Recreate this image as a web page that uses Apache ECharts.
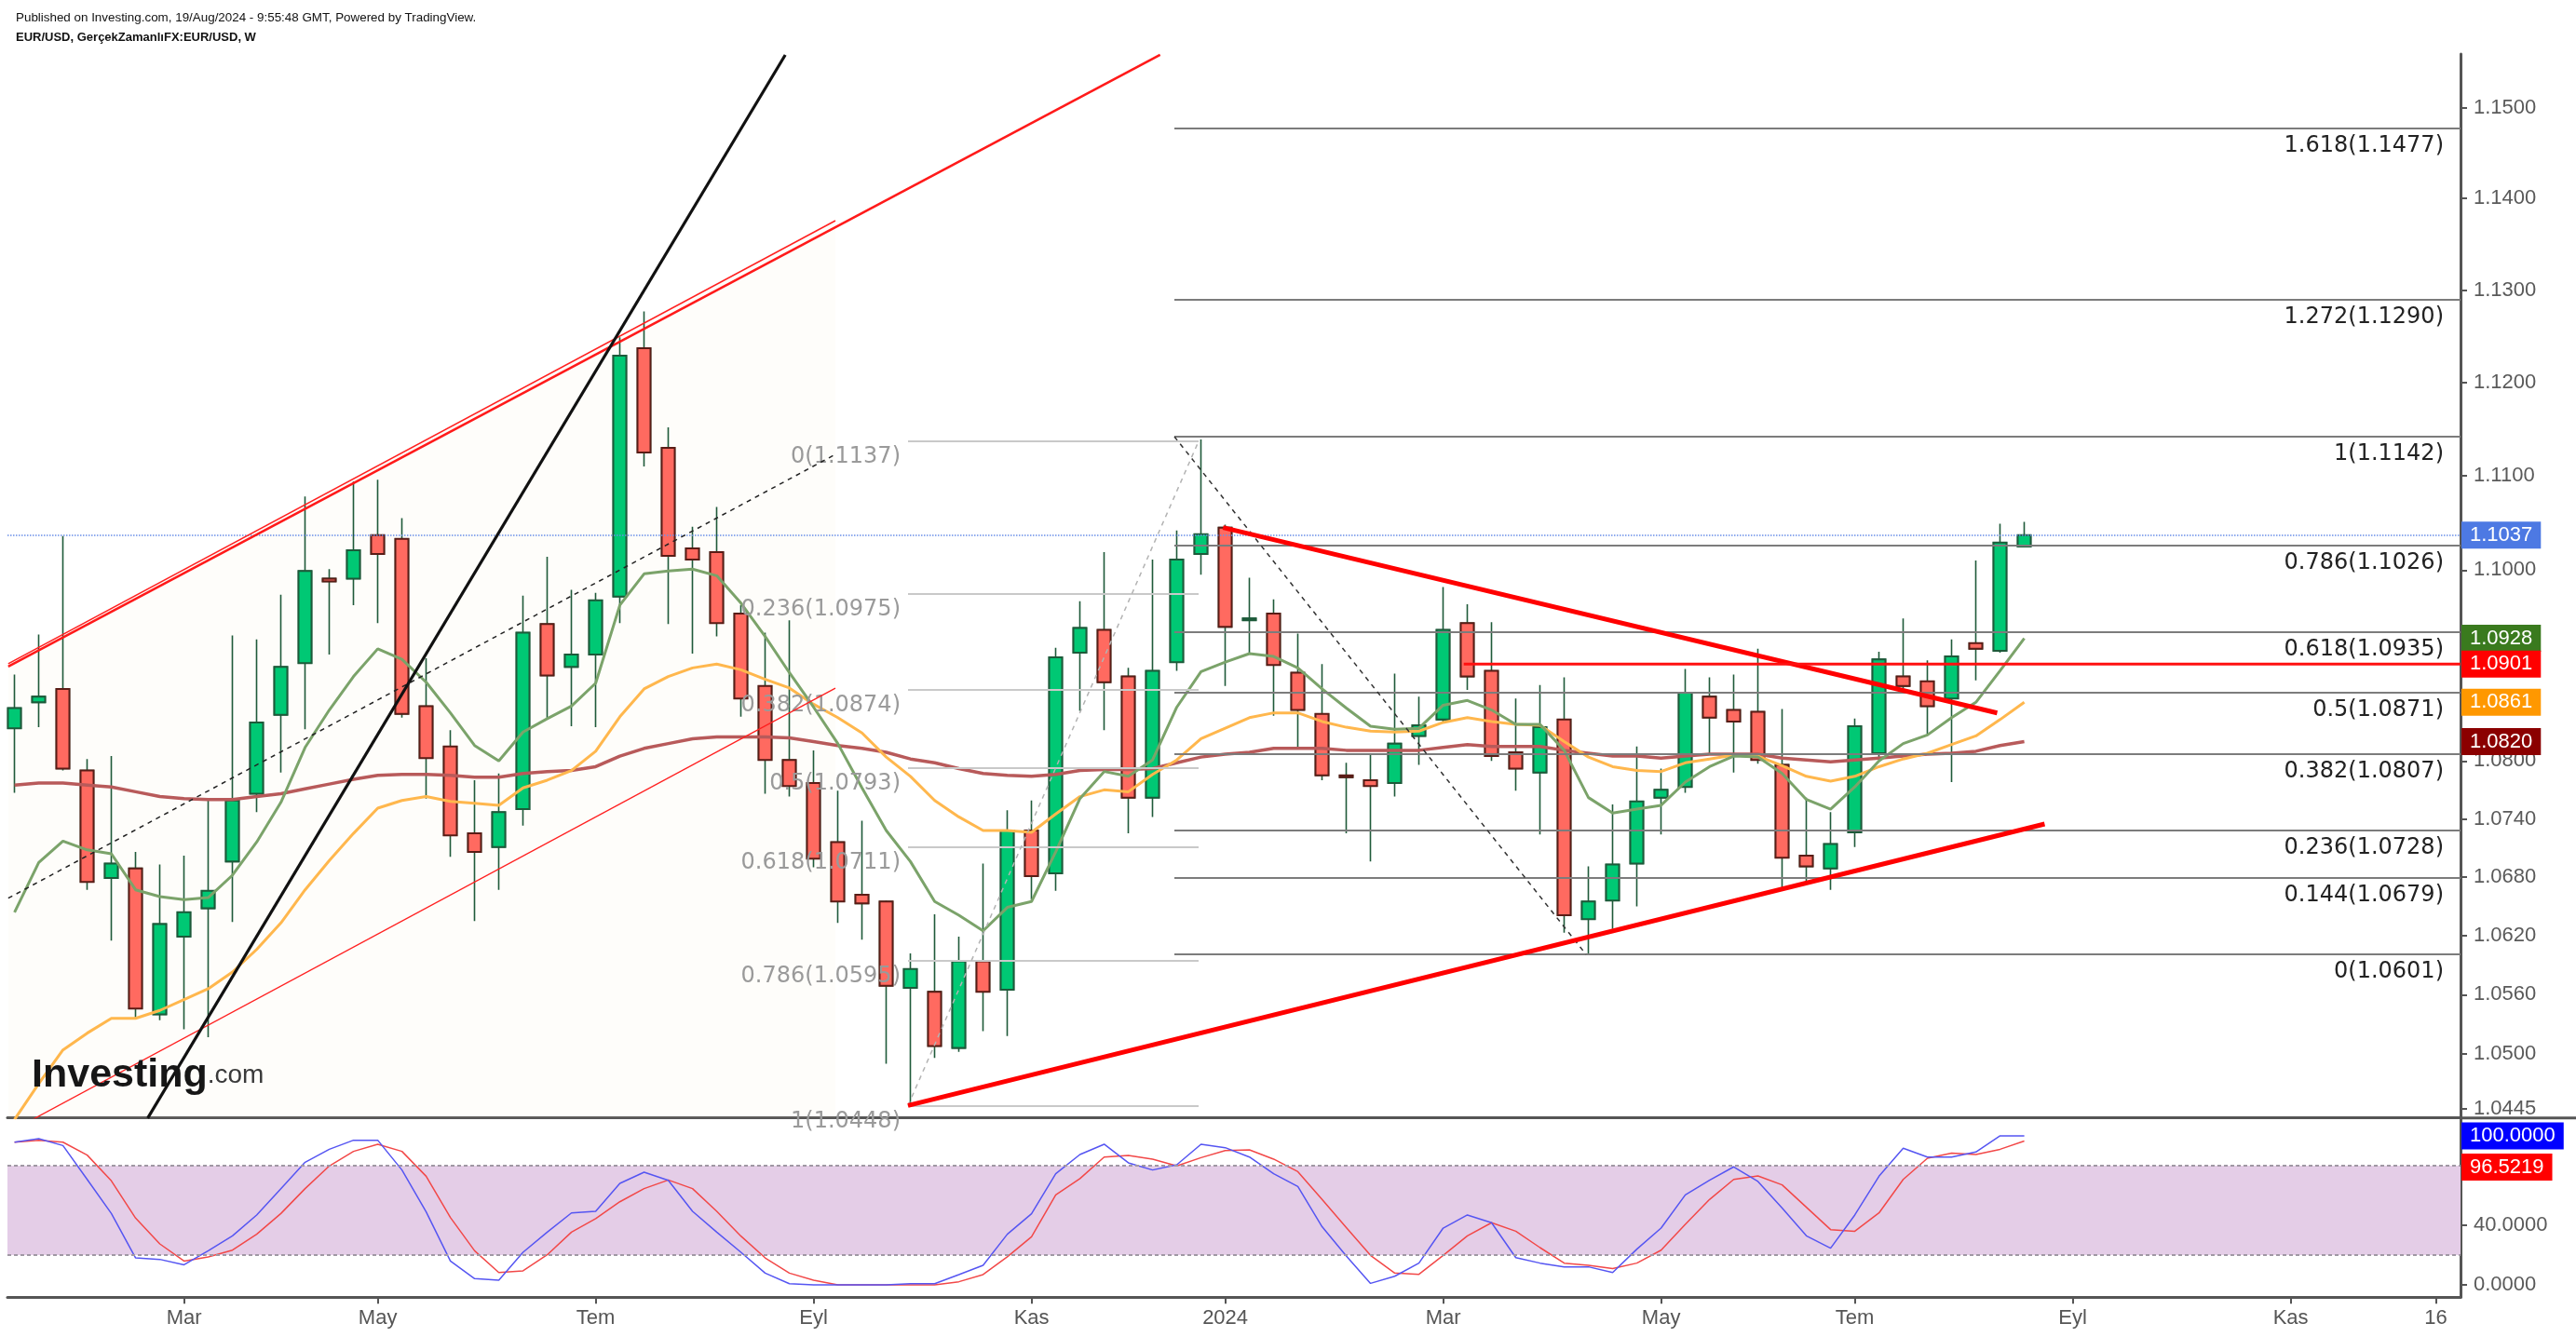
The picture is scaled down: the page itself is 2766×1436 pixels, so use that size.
<!DOCTYPE html>
<html><head><meta charset="utf-8">
<script src="https://cdn.jsdelivr.net/npm/echarts@6.0.0/dist/echarts.min.js"></script>
<style>html,body{margin:0;padding:0;background:#fff}#c{width:2766px;height:1436px}</style>
</head><body><div id="c"></div>
<script>
// ---------- DATA (weekly EUR/USD, first bar = week of 16 Jan 2023) ----------
const firstWeek = '2023-01-16';
const open = [1.0834,1.0861,1.0875,1.0790,1.0679,1.0689,1.0540,1.0619,1.0648,1.0696,
1.0766,1.0848,1.0902,1.0991,1.0991,1.1037,1.1033,1.0857,1.0815,1.0725,
1.0711,1.0750,1.0943,1.0898,1.0911,1.0972,1.1237,1.1130,1.1023,1.1019,
1.0954,1.0878,1.0801,1.0777,1.0716,1.0662,1.0655,1.0567,1.0563,1.0506,
1.0594,1.0565,1.0728,1.0684,1.0913,1.0937,1.0888,1.0762,1.0903,1.1017,
1.1045,1.0947,1.0954,1.0892,1.0849,1.0785,1.0780,1.0777,1.0826,1.0843,
1.0944,1.0894,1.0809,1.0788,1.0843,1.0637,1.0656,1.0694,1.0762,1.0773,
1.0867,1.0853,1.0851,1.0796,1.0702,1.0689,1.0726,1.0808,1.0888,1.0883,
1.0865,1.0923,1.0915,1.1025];
const high = [1.0890,1.0932,1.1036,1.0802,1.0805,1.0706,1.0693,1.0702,1.0760,1.0931,
1.0927,1.0974,1.1078,1.1001,1.1094,1.1096,1.1055,1.0907,1.0832,1.0780,
1.0787,1.0973,1.1014,1.0979,1.0976,1.1249,1.1277,1.1152,1.1046,1.1067,
1.0963,1.0934,1.0947,1.0811,1.0769,1.0738,1.0656,1.0602,1.0642,1.0619,
1.0694,1.0749,1.0759,1.0918,1.0967,1.1019,1.0897,1.1011,1.1042,1.1139,
1.1048,1.0992,1.0969,1.0933,1.0901,1.0798,1.0808,1.0891,1.0867,1.0982,
1.0964,1.0945,1.0865,1.0879,1.0887,1.0691,1.0755,1.0815,1.0792,1.0896,
1.0887,1.0890,1.0917,1.0854,1.0762,1.0747,1.0844,1.0914,1.0949,1.0905,
1.0927,1.1010,1.1049,1.1051];
const low = [1.0767,1.0835,1.0790,1.0667,1.0615,1.0535,1.0534,1.0525,1.0517,1.0634,
1.0747,1.0788,1.0833,1.0911,1.0963,1.0944,1.0845,1.0761,1.0701,1.0635,
1.0667,1.0733,1.0844,1.0836,1.0835,1.0944,1.1110,1.0943,1.0912,1.0930,
1.0846,1.0766,1.0763,1.0690,1.0633,1.0616,1.0490,1.0448,1.0496,1.0502,
1.0523,1.0518,1.0657,1.0666,1.0852,1.0832,1.0725,1.0742,1.0894,1.0995,
1.0878,1.0913,1.0847,1.0814,1.0780,1.0725,1.0696,1.0763,1.0796,1.0839,
1.0874,1.0800,1.0769,1.0724,1.0623,1.0601,1.0627,1.0650,1.0724,1.0767,
1.0806,1.0788,1.0797,1.0669,1.0674,1.0667,1.0711,1.0804,1.0875,1.0827,
1.0778,1.0884,1.0913,1.1025];
const close = [1.0855,1.0867,1.0792,1.0675,1.0694,1.0546,1.0632,1.0644,1.0666,1.0759,
1.0840,1.0898,1.0999,1.0988,1.1021,1.1017,1.0849,1.0803,1.0723,1.0706,
1.0747,1.0934,1.0889,1.0911,1.0968,1.1229,1.1125,1.1015,1.1011,1.0944,
1.0865,1.0801,1.0774,1.0699,1.0655,1.0653,1.0569,1.0586,1.0508,1.0594,
1.0563,1.0728,1.0681,1.0908,1.0939,1.0882,1.0762,1.0894,1.1011,1.1038,
1.0940,1.0949,1.0900,1.0853,1.0785,1.0783,1.0774,1.0818,1.0837,1.0937,
1.0888,1.0805,1.0792,1.0835,1.0641,1.0655,1.0693,1.0758,1.0770,1.0871,
1.0845,1.0841,1.0801,1.0700,1.0691,1.0714,1.0836,1.0906,1.0878,1.0857,
1.0909,1.0917,1.1029,1.1037];
const maFast = [1.0644,1.0695,1.0717,1.0708,1.0704,1.0667,1.0660,1.0657,1.0659,1.0682,
1.0716,1.0757,1.0814,1.0853,1.0888,1.0917,1.0906,1.0882,1.0850,1.0816,
1.0800,1.0830,1.0844,1.0857,1.0881,1.0963,1.0996,1.0999,1.1001,1.0994,
1.0965,1.0930,1.0892,1.0856,1.0818,1.0772,1.0728,1.0696,1.0655,1.0641,
1.0625,1.0649,1.0655,1.0706,1.0761,1.0789,1.0784,1.0801,1.0856,1.0893,
1.0903,1.0912,1.0909,1.0897,1.0875,1.0855,1.0836,1.0833,1.0834,1.0858,
1.0863,1.0853,1.0838,1.0838,1.0811,1.0762,1.0746,1.0750,1.0754,1.0778,
1.0794,1.0805,1.0804,1.0787,1.0760,1.0750,1.0773,1.0800,1.0818,1.0827,
1.0845,1.0861,1.0894,1.0928];
const maMid = [1.0434,1.0470,1.0504,1.0521,1.0536,1.0536,1.0544,1.0555,1.0566,1.0583,
1.0606,1.0633,1.0667,1.0697,1.0725,1.0751,1.0759,1.0763,1.0758,1.0756,
1.0754,1.0772,1.0780,1.0790,1.0810,1.0846,1.0875,1.0888,1.0897,1.0901,
1.0895,1.0885,1.0876,1.0859,1.0845,1.0829,1.0804,1.0784,1.0759,1.0742,
1.0728,1.0728,1.0726,1.0745,1.0763,1.0770,1.0768,1.0786,1.0801,1.0823,
1.0834,1.0845,1.0850,1.0850,1.0841,1.0835,1.0831,1.0830,1.0831,1.0840,
1.0845,1.0841,1.0838,1.0837,1.0820,1.0804,1.0794,1.0790,1.0789,1.0798,
1.0802,1.0806,1.0805,1.0795,1.0784,1.0779,1.0784,1.0794,1.0802,1.0808,
1.0817,1.0826,1.0843,1.0861];
const maSlow = [1.0775,1.0777,1.0777,1.0775,1.0773,1.0768,1.0763,1.0761,1.0760,1.0760,
1.0763,1.0766,1.0771,1.0776,1.0781,1.0785,1.0786,1.0786,1.0785,1.0783,
1.0783,1.0787,1.0789,1.0790,1.0794,1.0805,1.0813,1.0818,1.0823,1.0825,
1.0825,1.0825,1.0824,1.0820,1.0816,1.0813,1.0809,1.0802,1.0798,1.0792,
1.0787,1.0785,1.0784,1.0786,1.0790,1.0791,1.0791,1.0792,1.0798,1.0804,
1.0807,1.0809,1.0813,1.0813,1.0813,1.0811,1.0811,1.0811,1.0811,1.0814,
1.0817,1.0815,1.0815,1.0815,1.0811,1.0808,1.0805,1.0805,1.0803,1.0805,
1.0807,1.0807,1.0807,1.0803,1.0801,1.0799,1.0801,1.0803,1.0805,1.0807,
1.0808,1.0810,1.0816,1.0820];
const stochK = [95.8,98.1,93.5,70.8,47.9,18.1,17.1,13.5,22.9,32.9,
46.9,64.6,82.3,91.0,97.1,97.1,77.1,49.0,16.0,4.2,
3.1,21.9,35.4,48.3,49.4,68.1,75.6,70.2,49.4,35.4,
21.9,7.9,0.8,0,0,0,0,0.8,0.8,6.9,
13.1,34.0,47.7,74.6,87.5,94.4,81.9,77.1,80.6,94.4,
92.1,85.8,74.6,66.0,39.0,19.4,1.0,5.8,14.6,38.1,
46.9,41.7,18.3,14.6,12.1,12.1,8.3,24.0,38.1,60.4,
70.2,79.2,69.4,51.5,32.9,24.6,46.9,72.9,91.7,85.8,
85.8,89.2,100,100];
const stochD = [95.8,97.1,95.8,87.1,69.8,44.8,27.5,16.0,18.8,23.3,
34.0,47.9,64.6,79.8,89.6,94.4,89.6,72.9,45.2,22.9,
8.3,9.4,20.2,35.4,44.4,55.8,64.6,70.4,64.6,49.4,
32.7,18.1,7.9,3.1,0,0,0,0,0,2.1,
6.9,18.8,32.3,60.4,71.3,85.8,86.9,84.4,79.8,85.4,
90.2,90.6,84.4,76.0,57.3,38.5,19.8,7.9,7.1,19.8,
32.9,41.7,36.0,25.0,14.6,13.1,11.0,14.6,23.3,40.6,
57.3,70.8,73.1,67.1,52.1,37.1,36.0,48.3,70.8,85.0,
88.5,87.5,91.0,96.5219];

const priceTicks = [1.15,1.14,1.13,1.12,1.11,1.10,1.09,1.08,1.074,1.068,1.062,1.056,1.05,1.0445];
const stochTicks = [0,40,80];
const timeTickIdx = [7,15,24,33,42,50,59,68,76,85,94,100];
const timeTickLabels = ['Mar','May','Tem','Eyl','Kas','2024','Mar','May','Tem','Eyl','Kas','16'];

const fibARatios = ['0','0.236','0.382','0.5','0.618','0.786','1'];
const fibAPrices = [1.1137,1.0975,1.0874,1.0793,1.0711,1.0595,1.0448];
const fibASpan = [36.9,48.9];
const fibBRatios = ['1.618','1.272','1','0.786','0.618','0.5','0.382','0.236','0.144','0'];
const fibBPrices = [1.1477,1.1290,1.1142,1.1026,1.0935,1.0871,1.0807,1.0728,1.0679,1.0601];
const fibBStart = 47.9;

// drawings: [weekIndex, price]
const blackTrend = [[5.5,1.04355],[31.83,1.15585]];
const redTrendLong = [[-0.26,1.08984],[47.31,1.15585]];
const channelUpper = [[-0.26,1.09013],[33.9,1.13758]];
const channelLower = [[-0.26,1.04209],[33.9,1.08758]];
const channelMid = [[-0.26,1.06584],[33.9,1.11230]];
const triangleTop = [[49.91,1.10450],[81.88,1.08499]];
const triangleBottom = [[36.9,1.0448],[83.84,1.07347]];
const resistanceLevel = 1.0901;
const resistanceStart = 59.85;
const fibAConnector = [[36.9,1.0448],[48.9,1.1137]];
const fibBConnector = [[47.9,1.1142],[64.9,1.0601]];

// ---------- BUILD ----------
const L = v => Math.log(v);
const X_MIN = -0.2923, X_MAX = 101.0154;
const Y_MIN = L(1.04356), Y_MAX = L(1.15595);
const n = open.length;
const idx = open.map((_, i) => i);
const candleWick = idx.map(i => [i, L(open[i]), L(close[i]), L(low[i]), L(high[i])]);
const candleBody = idx.map(i => [i, L(open[i]), L(close[i]), L(Math.min(open[i], close[i])), L(Math.max(open[i], close[i]))]);
const lineData = arr => arr.map((v, i) => [i, L(v)]);
const segData = seg => seg.map(p => [p[0], L(p[1])]);
const FONT = "'Liberation Sans', Arial, sans-serif";
const FIBFONT = "'DejaVu Sans', Verdana, sans-serif";
const HIDDEN = { color: 'rgba(0,0,0,0)', width: 1 };

function tag(val, bg, text) {
  return { yAxis: val, lineStyle: HIDDEN,
    label: { show: true, position: 'end', distance: 1, formatter: text, backgroundColor: bg,
      color: '#fff', padding: [4, 9, 3, 9], fontSize: 22, fontFamily: FONT } };
}
function trend(seg, color, width, type, z) {
  return { type: 'line', xAxisIndex: 0, yAxisIndex: 0, data: segData(seg), symbol: 'none',
    silent: true, clip: true, z: z || 6, animation: false,
    lineStyle: { color: color, width: width, type: type || 'solid' } };
}
const priceFmt = p => Math.exp(p.value).toFixed(4);
const tlabel = {};
timeTickIdx.forEach((v, k) => tlabel[v] = timeTickLabels[k]);

const lastK = stochK[n - 1], lastD = stochD[n - 1];

const option = {
  animation: false,
  backgroundColor: '#ffffff',
  title: {
    text: 'Published on Investing.com, 19/Aug/2024 - 9:55:48 GMT, Powered by TradingView.',
    subtext: 'EUR/USD, GerçekZamanlıFX:EUR/USD, W',
    left: 12, top: 8, itemGap: 8,
    textStyle: { fontFamily: "'Liberation Sans Narrow','Liberation Sans',sans-serif", fontSize: 13.4, fontWeight: 'normal', color: '#111' },
    subtextStyle: { fontFamily: "'Liberation Sans Narrow','Liberation Sans',sans-serif", fontSize: 13, fontWeight: 'bold', color: '#111' }
  },
  graphic: [{
    type: 'text', left: 34, top: 1134, z: 100, silent: true,
    style: { text: '{a|Investing}{b|.com}',
      rich: { a: { fontSize: 43, fontWeight: 'bold', fontFamily: FONT, fill: '#161616' },
              b: { fontSize: 28, fontFamily: FONT, fill: '#3a3a3a' } } }
  }, {
    type: 'line', silent: true, z: 100,
    shape: { x1: 2642, y1: 1200.7, x2: 2766, y2: 1200.7 }, style: { stroke: '#555', lineWidth: 3 }
  }],
  grid: [
    { left: 8, right: 124, top: 58, height: 1142.7 },
    { left: 8, right: 124, top: 1200.7, height: 192.6 }
  ],
  xAxis: [
    { gridIndex: 0, type: 'value', min: X_MIN, max: X_MAX,
      axisLine: { show: true, onZero: false, lineStyle: { color: '#555', width: 3 } },
      axisTick: { show: false }, axisLabel: { show: false }, splitLine: { show: false } },
    { gridIndex: 1, type: 'value', min: X_MIN, max: X_MAX,
      axisLine: { show: true, onZero: false, lineStyle: { color: '#555', width: 3 } },
      axisTick: { show: true, customValues: timeTickIdx, length: 7, lineStyle: { color: '#555', width: 2 } },
      axisLabel: { show: true, customValues: timeTickIdx, formatter: v => tlabel[Math.round(v)] || '',
        color: '#555', fontSize: 22, fontFamily: FONT, margin: 12 },
      splitLine: { show: false } }
  ],
  yAxis: [
    { gridIndex: 0, type: 'value', position: 'right', min: Y_MIN, max: Y_MAX,
      axisLine: { show: true, onZero: false, lineStyle: { color: '#555', width: 3 } },
      axisTick: { show: true, customValues: priceTicks.map(L), length: 7, lineStyle: { color: '#555', width: 2 } },
      axisLabel: { customValues: priceTicks.map(L), formatter: v => Math.exp(v).toFixed(4),
        color: '#5a5a5a', fontSize: 22, fontFamily: FONT, margin: 14 },
      splitLine: { show: false } },
    { gridIndex: 1, type: 'value', position: 'right', min: -8.31, max: 112.06,
      axisLine: { show: true, onZero: false, lineStyle: { color: '#555', width: 3 } },
      axisTick: { show: true, customValues: stochTicks, length: 7, lineStyle: { color: '#555', width: 2 } },
      axisLabel: { customValues: stochTicks, formatter: v => v.toFixed(4),
        color: '#5a5a5a', fontSize: 22, fontFamily: FONT, margin: 14 },
      splitLine: { show: false } }
  ],
  series: [
    // faint channel tint
    { type: 'custom', xAxisIndex: 0, yAxisIndex: 0, silent: true, z: 1, clip: true, data: [0],
      renderItem: (params, api) => {
        const pts = [channelUpper[0], channelUpper[1], [channelUpper[1][0], Math.exp(Y_MIN)], [channelUpper[0][0], Math.exp(Y_MIN)]]
          .map(p => api.coord([p[0], L(p[1])]));
        return { type: 'polygon', shape: { points: pts }, style: { fill: 'rgba(240,228,205,0.09)' } };
      } },
    // wick layer
    { type: 'candlestick', xAxisIndex: 0, yAxisIndex: 0, silent: true, z: 2, barWidth: 15,
      dimensions: ['idx', 'open', 'close', 'lowest', 'highest'],
      encode: { x: 'idx', y: ['open', 'close', 'lowest', 'highest'] },
      itemStyle: { color: 'transparent', color0: 'transparent', borderColor: '#1f5a3a', borderColor0: '#1f5a3a', borderWidth: 1.6 },
      data: candleWick },
    // body layer + last price line
    { type: 'candlestick', xAxisIndex: 0, yAxisIndex: 0, silent: true, z: 3, barWidth: 15,
      dimensions: ['idx', 'open', 'close', 'lowest', 'highest'],
      encode: { x: 'idx', y: ['open', 'close', 'lowest', 'highest'] },
      itemStyle: { color: '#00c874', color0: '#ff6a60', borderColor: '#1d5a3a', borderColor0: '#5a1c16', borderWidth: 2 },
      data: candleBody,
      markLine: { silent: true, symbol: ['none', 'none'], precision: 10, animation: false,
        data: [Object.assign(tag(L(close[n - 1]), '#4d79e3', priceFmt),
          { lineStyle: { color: '#6a8fe8', type: 'dotted', width: 1.5 } })] } },
    // moving averages
    { type: 'line', xAxisIndex: 0, yAxisIndex: 0, data: lineData(maSlow), symbol: 'none', silent: true, z: 4,
      lineStyle: { color: '#b85a5a', width: 3.5 },
      markLine: { silent: true, symbol: ['none', 'none'], precision: 10, data: [tag(L(maSlow[n - 1]), '#8b0000', priceFmt)] } },
    { type: 'line', xAxisIndex: 0, yAxisIndex: 0, data: lineData(maMid), symbol: 'none', silent: true, z: 4,
      lineStyle: { color: '#ffb74d', width: 3 },
      markLine: { silent: true, symbol: ['none', 'none'], precision: 10, data: [tag(L(maMid[n - 1]), '#ff9800', priceFmt)] } },
    { type: 'line', xAxisIndex: 0, yAxisIndex: 0, data: lineData(maFast), symbol: 'none', silent: true, z: 4,
      lineStyle: { color: '#7ba36a', width: 3 },
      markLine: { silent: true, symbol: ['none', 'none'], precision: 10, data: [tag(L(maFast[n - 1]), '#3a7a1e', priceFmt)] } },
    // fib A (left, grey)
    Object.assign(trend(fibAConnector, '#b3b3b3', 1.5, [5, 5], 5), {
      markLine: { silent: true, symbol: ['none', 'none'], precision: 10,
        lineStyle: { color: '#c9c9c9', width: 2, type: 'solid' },
        label: { show: true, position: 'start', distance: 8, verticalAlign: 'top', padding: [5, 0, 0, 0], formatter: '{b}',
          color: '#9a9a9a', fontSize: 24, fontFamily: FIBFONT },
        data: fibAPrices.map((p, k) => [{ name: fibARatios[k] + '(' + p.toFixed(4) + ')', coord: [fibASpan[0], L(p)] },
                                        { coord: [fibASpan[1], L(p)] }]) } }),
    // fib B (right, dark)
    Object.assign(trend(fibBConnector, '#333', 1.5, [5, 5], 5), {
      markLine: { silent: true, symbol: ['none', 'none'], precision: 10,
        lineStyle: { color: '#7c7c7c', width: 2, type: 'solid' },
        label: { show: true, position: 'insideEndBottom', distance: [18, 7], formatter: '{b}',
          color: '#222', fontSize: 24, fontFamily: FIBFONT },
        data: fibBPrices.map((p, k) => [{ name: fibBRatios[k] + '(' + p.toFixed(4) + ')', coord: [fibBStart, L(p)] },
                                        { coord: [X_MAX, L(p)] }]) } }),
    // channel + trend lines
    trend(channelMid, '#222', 1.5, [5, 5]),
    trend(channelUpper, '#ff2020', 1.5),
    trend(channelLower, '#ff2020', 1.3),
    trend(redTrendLong, '#ff1a1a', 2.6),
    trend(blackTrend, '#111', 3.2),
    trend(triangleTop, '#ff0000', 5),
    trend(triangleBottom, '#ff0000', 5),
    Object.assign(trend([[resistanceStart, resistanceLevel], [X_MAX, resistanceLevel]], '#ff1010', 3), {
      markLine: { silent: true, symbol: ['none', 'none'], precision: 10, data: [tag(L(resistanceLevel), '#ff0000', priceFmt)] } }),
    // stochastic
    { type: 'line', xAxisIndex: 1, yAxisIndex: 1, data: stochD.map((v, i) => [i, v]), symbol: 'none', silent: true, z: 3,
      lineStyle: { color: '#f24848', width: 1.5 },
      markLine: { silent: true, symbol: ['none', 'none'], precision: 10, data: [{ yAxis: lastD, lineStyle: HIDDEN,
        label: { show: true, position: 'end', distance: 1, formatter: '{p| }\n{t|' + lastD.toFixed(4) + '}',
          rich: { p: { height: 56, fontSize: 2 }, t: { backgroundColor: '#ff0000', color: '#fff', padding: [4, 9, 3, 9], fontSize: 22, fontFamily: FONT } } } }] } },
    { type: 'line', xAxisIndex: 1, yAxisIndex: 1, data: stochK.map((v, i) => [i, v]), symbol: 'none', silent: true, z: 3,
      lineStyle: { color: '#5555f2', width: 1.5 },
      markArea: { silent: true, itemStyle: { color: '#e4cde7' }, data: [[{ yAxis: 20 }, { yAxis: 80 }]] },
      markLine: { silent: true, symbol: ['none', 'none'], precision: 10, data: [
        { yAxis: 20, lineStyle: { color: '#a098a4', type: [4, 3], width: 2 }, label: { show: false } },
        { yAxis: 80, lineStyle: { color: '#a098a4', type: [4, 3], width: 2 }, label: { show: false } },
        tag(lastK, '#0000ff', p => p.value.toFixed(4))] } }
  ]
};
const chart = echarts.init(document.getElementById('c'), null, { renderer: 'canvas' });
chart.setOption(option);
</script></body></html>
